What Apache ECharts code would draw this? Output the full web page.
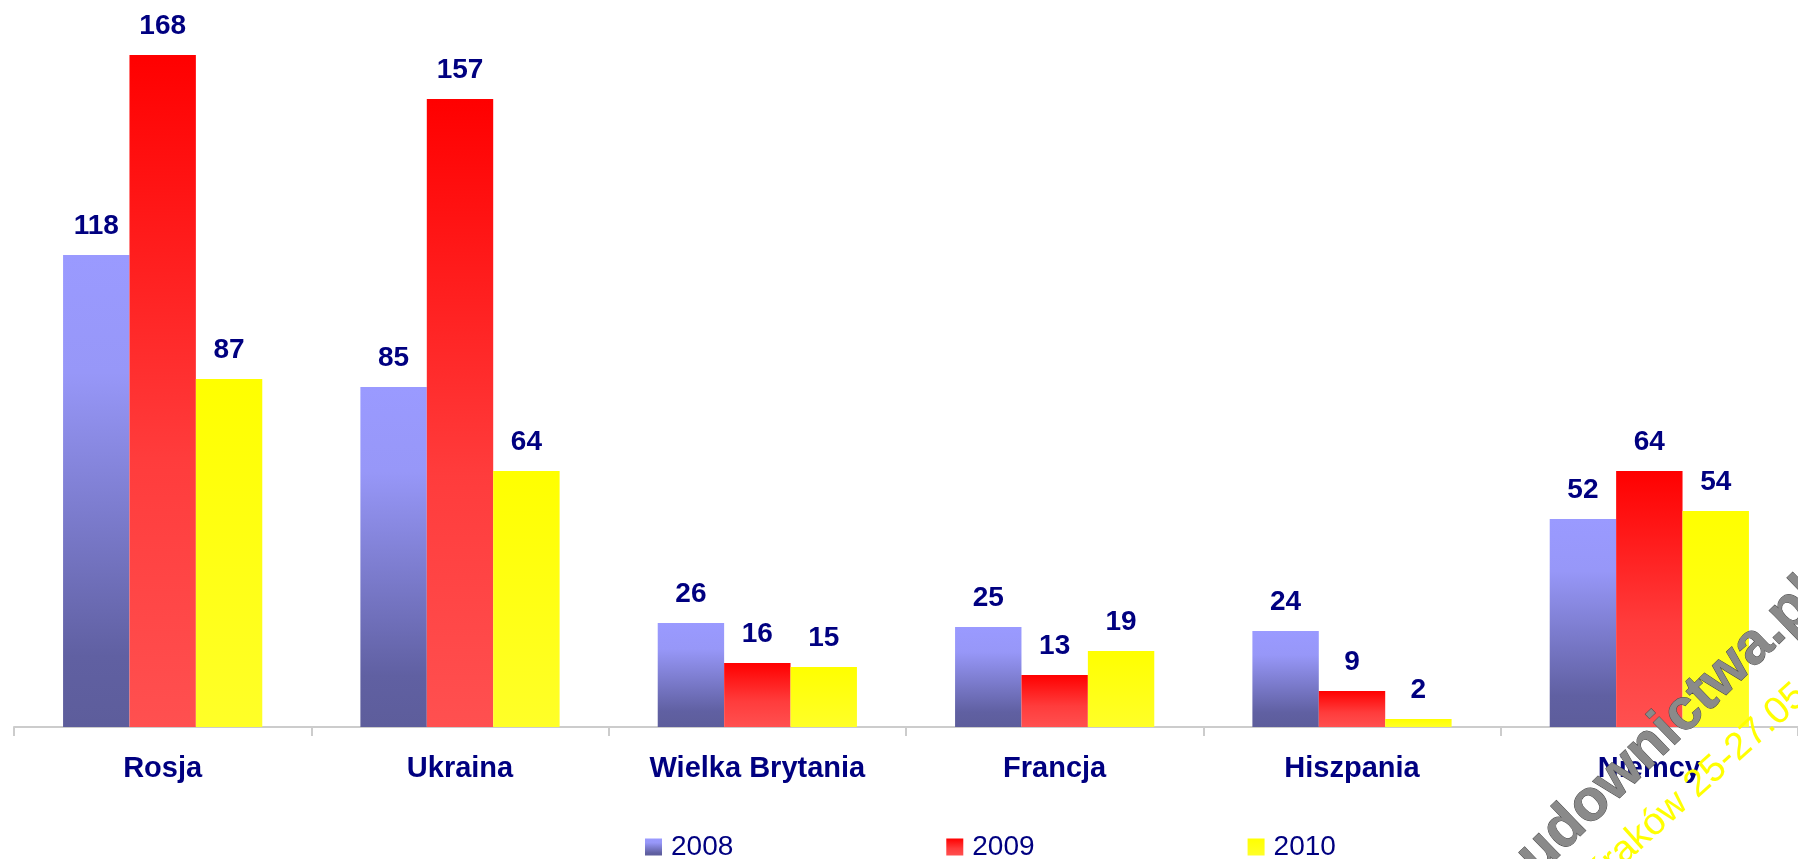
<!DOCTYPE html>
<html>
<head>
	<meta charset="UTF-8">
	<title>Rosja, Ukraina, Niemcy 2008-2010</title>
	<script src="https://cdn.jsdelivr.net/npm/echarts@6/dist/echarts.min.js"></script>
	<style>
		html, body { margin: 0; padding: 0; background: #fff; }
		#chart { width: 1798px; height: 859px; }
	</style>
</head>
<body>
<div id="chart"></div>
<script type="text/javascript">
	// dane z wykresu
	var kraje = ['Rosja', 'Ukraina', 'Wielka Brytania', 'Francja', 'Hiszpania', 'Niemcy'];
	var lata = ['2008', '2009', '2010'];
	var dane2008 = [118, 85, 26, 25, 24, 52];
	var dane2009 = [168, 157, 16, 13, 9, 64];
	var dane2010 = [87, 64, 15, 19, 2, 54];

	var granat = '#000080';
	var font = '"Liberation Sans", Arial, Helvetica, sans-serif';

	function gradient(stops) {
		return new echarts.graphic.LinearGradient(0, 0, 0, 1, stops);
	}

	var kolory = [
		gradient([
			{offset: 0, color: '#9a9aff'},
			{offset: 0.25, color: '#9797f8'},
			{offset: 0.85, color: '#6060a2'},
			{offset: 1, color: '#5d5d9b'}
		]),
		gradient([
			{offset: 0, color: '#ff0000'},
			{offset: 0.6, color: '#ff3c3c'},
			{offset: 1, color: '#ff5050'}
		]),
		gradient([
			{offset: 0, color: '#ffff00'},
			{offset: 1, color: '#ffff28'}
		])
	];

	function seria(nazwa, dane, kolor) {
		return {
			name: nazwa,
			type: 'bar',
			data: dane,
			barGap: '0%',
			barCategoryGap: '33%',
			itemStyle: {color: kolor},
			label: {
				show: true,
				position: 'top',
				distance: 15,
				color: granat,
				fontFamily: font,
				fontWeight: 'bold',
				fontSize: 28
			}
		};
	}

	var myChart = echarts.init(document.getElementById('chart'));

	var option = {
		animation: false,
		backgroundColor: '#ffffff',
		grid: {
			left: 14,
			right: 0,
			top: 55,
			bottom: 132,
			containLabel: false
		},
		legend: {
			data: lata,
			left: 645,
			top: 833,
			padding: 0,
			itemWidth: 17,
			itemHeight: 17,
			itemGap: 213,
			icon: 'rect',
			textStyle: {
				color: granat,
				fontFamily: font,
				fontSize: 28,
				padding: [0, 0, 0, 4]
			}
		},
		xAxis: {
			type: 'category',
			data: kraje,
			axisLine: {lineStyle: {color: '#cccccc', width: 2}},
			axisTick: {show: true, length: 9, lineStyle: {color: '#cccccc', width: 2}},
			axisLabel: {
				margin: 27,
				color: granat,
				fontFamily: font,
				fontWeight: 'bold',
				fontSize: 29,
				interval: 0
			}
		},
		yAxis: {
			type: 'value',
			min: 0,
			max: 168,
			show: false,
			splitLine: {show: false}
		},
		series: [
			seria(lata[0], dane2008, kolory[0]),
			seria(lata[1], dane2009, kolory[1]),
			seria(lata[2], dane2010, kolory[2])
		],
		// znak wodny w prawym dolnym rogu
		graphic: [
			{
				type: 'text',
				x: 1521,
				y: 911,
				rotation: 44 * Math.PI / 180,
				z: 100,
				style: {
					text: 'budownictwa.pl',
					font: 'bold 58px ' + font,
					fill: '#8a8a8a',
					stroke: '#4a4a4a',
					lineWidth: 1,
					textAlign: 'left',
					textVerticalAlign: 'bottom'
				}
			},
			{
				type: 'text',
				x: 1601,
				y: 897,
				rotation: 42 * Math.PI / 180,
				z: 101,
				style: {
					text: 'Kraków 25-27.05.2010',
					font: '38px ' + font,
					fill: '#ffff00',
					textAlign: 'left',
					textVerticalAlign: 'bottom'
				}
			}
		]
	};
	myChart.setOption(option);
</script>
</body>
</html>
